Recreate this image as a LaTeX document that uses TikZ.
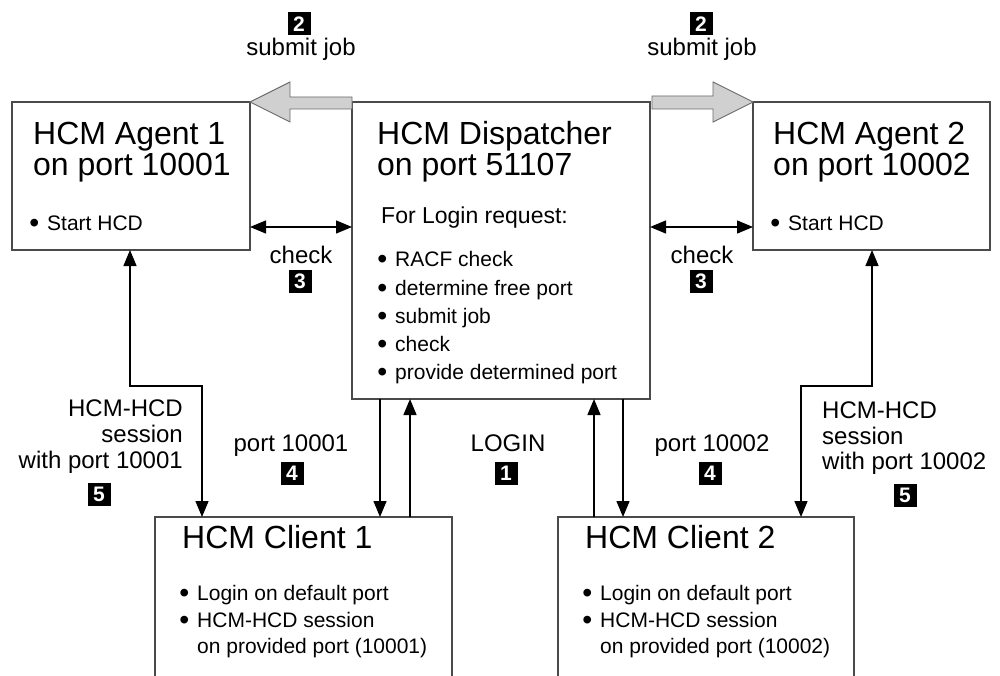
\documentclass[tikz,border=0pt]{standalone}
\usepackage{fontspec}
\setmainfont{Liberation Sans}
\usetikzlibrary{arrows.meta,calc}
\definecolor{boxline}{HTML}{4A4A4A}
\definecolor{bigfill}{HTML}{D0D0D0}
\definecolor{bigline}{HTML}{6A6A6A}
\begin{document}
\begin{tikzpicture}[x=1pt,y=-1pt,
  box/.style={draw=boxline, line width=1.2pt, inner sep=0pt, outer sep=0pt, anchor=north west},
  ttl/.style={font=\fontsize{32}{36}\selectfont, anchor=base west, inner sep=0pt},
  bul/.style={font=\fontsize{21}{25}\selectfont, anchor=base west, inner sep=0pt},
  hdr/.style={font=\fontsize{23}{26}\selectfont, anchor=base west, inner sep=0pt},
  lab/.style={font=\fontsize{24}{28}\selectfont, anchor=base, inner sep=0pt},
  labr/.style={lab, anchor=base east},
  labl/.style={lab, anchor=base west},
  num/.style={fill=black, text=white, font=\bfseries\fontsize{21}{21}\selectfont, minimum size=23pt, inner sep=0pt},
  arr/.style={line width=1.4pt, -{Triangle[length=16pt,width=13pt]}},
  dbl/.style={line width=1.4pt, {Triangle[length=16pt,width=13pt]}-{Triangle[length=16pt,width=13pt]}},
  big/.style={fill=bigfill, draw=bigline, line width=0.9pt, line join=miter}
]
\newcommand{\bu}{\llap{\raisebox{-2.2pt}{\scalebox{1.35}{\textbullet}}\hspace{8pt}}}
\clip (0,0) rectangle (1000,676);
\fill[white] (0,0) rectangle (1000,676);

% boxes
\node[box, minimum width=238pt, minimum height=148pt] (a1) at (12,102) {};
\node[box, minimum width=298pt, minimum height=297pt] (disp) at (352,102) {};
\node[box, minimum width=237pt, minimum height=148pt] (a2) at (753,102) {};
\node[box, minimum width=297pt, minimum height=200pt] (c1) at (155,517) {};
\node[box, minimum width=296pt, minimum height=200pt] (c2) at (558,517) {};

% agent 1 text
\node[ttl] (a1t1) at (33,145) {HCM Agent 1};
\node[ttl] (a1t2) at (33,176) {on port 10001};
\node[bul] (a1b1) at (47,230) {\bu Start HCD};

% agent 2 text
\node[ttl] (a2t1) at (773,145) {HCM Agent 2};
\node[ttl] (a2t2) at (773,176) {on port 10002};
\node[bul] (a2b1) at (788,230) {\bu Start HCD};

% dispatcher text
\node[ttl] (dt1) at (377,145) {HCM Dispatcher};
\node[ttl] (dt2) at (377,176) {on port 51107};
\node[hdr] (dh) at (381,224) {For Login request:};
\node[bul] (db1) at (395,266) {\bu RACF check};
\node[bul] (db2) at (395,295) {\bu determine free port};
\node[bul] (db3) at (395,323) {\bu submit job};
\node[bul] (db4) at (395,351) {\bu check};
\node[bul] (db5) at (395,379) {\bu provide determined port};

% client 1 text
\node[ttl] (c1t) at (182,548) {HCM Client 1};
\node[bul] (c1b1) at (197,600) {\bu Login on default port};
\node[bul] (c1b2) at (197,627) {\bu HCM-HCD session};
\node[bul] (c1b3) at (197,653) {on provided port (10001)};

% client 2 text
\node[ttl] (c2t) at (585,548) {HCM Client 2};
\node[bul] (c2b1) at (600,600) {\bu Login on default port};
\node[bul] (c2b2) at (600,627) {\bu HCM-HCD session};
\node[bul] (c2b3) at (600,653) {on provided port (10002)};

% big submit arrows
\filldraw[big] (a1.north east) -- ++(40,-20) -- ++(0,15) -- ++(62,0) -- ++(0,12) -- ++(-62,0) -- ++(0,13) -- cycle;
\filldraw[big] (a2.north west) -- ++(-40,-20) -- ++(0,14) -- ++(-61,0) -- ++(0,13) -- ++(61,0) -- ++(0,13) -- cycle;
\node[num] (n2a) at (299,24) {2};
\node[lab] (s2a) at (301,56) {submit job};
\node[num] (n2b) at (701,24) {2};
\node[lab] (s2b) at (702,56) {submit job};

% check arrows
\coordinate (ck) at (0,227);
\draw[dbl] (a1.east |- ck) -- (disp.west |- ck);
\draw[dbl] (disp.east |- ck) -- (a2.west |- ck);
\node[lab] (cha) at (301,263) {check};
\node[num] (n3a) at (300,281) {3};
\node[lab] (chb) at (702,263) {check};
\node[num] (n3b) at (701,281) {3};

% dispatcher <-> clients
\coordinate (v1) at (380,0);
\coordinate (v2) at (410,0);
\coordinate (v3) at (594,0);
\coordinate (v4) at (623,0);
\draw[arr] (disp.south -| v1) -- (c1.north -| v1);
\draw[arr] (c1.north -| v2) -- (disp.south -| v2);
\draw[arr] (c2.north -| v3) -- (disp.south -| v3);
\draw[arr] (disp.south -| v4) -- (c2.north -| v4);
\node[lab] (p4a) at (291,451) {port 10001};
\node[num] (n4a) at (292,473) {4};
\node[lab] (login) at (508,451) {LOGIN};
\node[num] (n1) at (506,473) {1};
\node[lab] (p4b) at (712,451) {port 10002};
\node[num] (n4b) at (710,473) {4};

% agent <-> client sessions
\coordinate (h1) at (130,0);
\coordinate (h2) at (202,0);
\coordinate (h3) at (872,0);
\coordinate (h4) at (801,0);
\coordinate (hy) at (0,386);
\draw[dbl, line join=miter] (a1.south -| h1) -- (h1 |- hy) -- (h2 |- hy) -- (c1.north -| h2);
\draw[dbl, line join=miter] (a2.south -| h3) -- (h3 |- hy) -- (h4 |- hy) -- (c2.north -| h4);
\node[labr] (s5a1) at (183,416) {HCM-HCD};
\node[labr] (s5a2) at (183,442) {session};
\node[labr] (s5a3) at (183,468) {with port 10001};
\node[num] (n5a) at (99,494) {5};
\node[labl] (s5b1) at (822,418) {HCM-HCD};
\node[labl] (s5b2) at (822,444) {session};
\node[labl] (s5b3) at (822,469) {with port 10002};
\node[num] (n5b) at (905,495) {5};
\end{tikzpicture}
\end{document}
